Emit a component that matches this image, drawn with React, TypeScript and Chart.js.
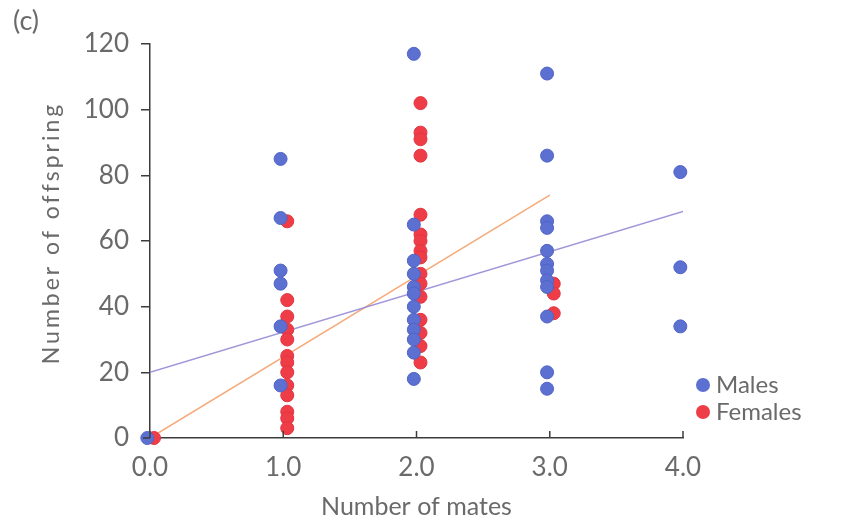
import React, { useEffect, useRef } from "react";
import { Chart, registerables } from "chart.js";

Chart.register(...registerables);

// ---- data ----
const mates = [0, 1, 2, 3, 4];
const xTickLabels = ["0.0", "1.0", "2.0", "3.0", "4.0"];
const yTicks = [0, 20, 40, 60, 80, 100, 120];

const maleOffspring: number[][] = [
  [0],
  [85, 67, 51, 47, 34, 16],
  [117, 65, 54, 50, 46, 44, 40, 36, 33, 30, 26, 18],
  [111, 86, 66, 64, 57, 53, 51, 48, 46, 37, 20, 15],
  [81, 52, 34],
];
const femaleOffspring: number[][] = [
  [0],
  [66, 42, 37, 33, 30, 25, 23, 20, 16, 13, 8, 6, 3],
  [102, 93, 91, 86, 68, 62, 60, 57, 55, 50, 47, 43, 36, 32, 28, 23],
  [47, 44, 38],
  [],
];
// fitted lines (endpoints)
const maleFitX = [0, 4];
const maleFitY = [20, 69];
const femaleFitX = [0, 3];
const femaleFitY = [0, 74];

// ---- styling ----
const MALE_DX = -0.02;
const FEMALE_DX = 0.03;
const BLUE = "#5c70d2";
const RED = "#ef3d48";
const TEXT = "#6a6a6a";
const AXIS = "#3c3c3c";
const FONT = "Lato, 'Open Sans', sans-serif";

export default function App() {
  const ref = useRef<HTMLCanvasElement | null>(null);

  useEffect(() => {
    if (!ref.current) return;
    const males = mates.flatMap((m, i) =>
      maleOffspring[i].map((v) => ({ x: m + MALE_DX, y: v }))
    );
    const females = mates.flatMap((m, i) =>
      femaleOffspring[i].map((v) => ({ x: m + FEMALE_DX, y: v }))
    );
    const maleLine = maleFitX.map((x, i) => ({ x, y: maleFitY[i] }));
    const femaleLine = femaleFitX.map((x, i) => ({ x, y: femaleFitY[i] }));

    const extras = {
      id: "extras",
      afterDraw(chart: any) {
        const { ctx, scales, chartArea } = chart;
        const xs = scales.x;
        const ys = scales.y;
        ctx.save();
        // upward x ticks and small extension of the x axis to the left
        ctx.strokeStyle = AXIS;
        ctx.lineWidth = 1.5;
        const y0 = ys.getPixelForValue(0);
        mates.forEach((m) => {
          const px = xs.getPixelForValue(m);
          ctx.beginPath();
          ctx.moveTo(px, y0);
          ctx.lineTo(px, y0 - 7);
          ctx.stroke();
        });
        ctx.beginPath();
        ctx.moveTo(chartArea.left - 7, y0);
        ctx.lineTo(chartArea.left, y0);
        ctx.stroke();
        // panel label
        ctx.fillStyle = TEXT;
        ctx.font = `27px ${FONT}`;
        ctx.textBaseline = "middle";
        ctx.textAlign = "left";
        ctx.fillText("(c)", 13, 21);
        // y title with tracking
        ctx.save();
        ctx.translate(52, (chartArea.top + chartArea.bottom) / 2 - 8);
        ctx.rotate(-Math.PI / 2);
        ctx.font = `23px ${FONT}`;
        ctx.textAlign = "center";
        (ctx as any).letterSpacing = "3px";
        ctx.fillText("Number of offspring", 0, 0);
        ctx.restore();
        // legend
        const items = [
          { label: "Males", color: BLUE },
          { label: "Females", color: RED },
        ];
        items.forEach((it, i) => {
          const cy = 385 + i * 27;
          ctx.beginPath();
          ctx.arc(703, cy, 7, 0, Math.PI * 2);
          ctx.fillStyle = it.color;
          ctx.fill();
          ctx.fillStyle = TEXT;
          ctx.font = `24px ${FONT}`;
          ctx.textBaseline = "middle";
          ctx.textAlign = "left";
          ctx.fillText(it.label, 716, cy);
        });
        ctx.restore();
      },
    };

    const chart = new Chart(ref.current, {
      type: "scatter",
      data: {
        datasets: [
          {
            label: "Males",
            data: males,
            backgroundColor: BLUE,
            borderColor: "#5063c6",
            borderWidth: 1,
            pointRadius: 6.5,
            clip: false as any,
          },
          {
            label: "Females",
            data: females,
            backgroundColor: RED,
            borderColor: "#e2343f",
            borderWidth: 1,
            pointRadius: 6.5,
            clip: false as any,
          },
          {
            label: "Males fit",
            data: maleLine,
            showLine: true,
            borderColor: "rgba(150,140,215,0.9)",
            borderWidth: 1.5,
            pointRadius: 0,
          } as any,
          {
            label: "Females fit",
            data: femaleLine,
            showLine: true,
            borderColor: "rgba(244,165,115,0.95)",
            borderWidth: 1.5,
            pointRadius: 0,
          } as any,
        ],
      },
      options: {
        animation: false,
        responsive: true,
        maintainAspectRatio: false,
        layout: { padding: { top: 44, right: 158, bottom: 0, left: 0 } },
        plugins: {
          legend: { display: false },
          tooltip: { enabled: false },
        },
        scales: {
          x: {
            type: "linear",
            min: 0,
            max: 4,
            afterFit: (s: any) => {
              s.height = 88;
            },
            afterBuildTicks: (s: any) => {
              s.ticks = mates.map((v) => ({ value: v }));
            },
            ticks: {
              callback: (v: any) => xTickLabels[mates.indexOf(Number(v))] ?? "",
              color: TEXT,
              font: { family: FONT, size: 26 },
              padding: 14,
              maxRotation: 0,
            },
            grid: { drawOnChartArea: false, drawTicks: false },
            border: { display: true, color: AXIS, width: 1.5 },
            title: {
              display: true,
              text: "Number of mates",
              color: TEXT,
              font: { family: FONT, size: 25 },
              padding: { top: 0, bottom: 4 },
            },
          },
          y: {
            type: "linear",
            min: 0,
            max: 120,
            afterFit: (s: any) => {
              s.width = 150;
            },
            afterBuildTicks: (s: any) => {
              s.ticks = yTicks.map((v) => ({ value: v }));
            },
            ticks: {
              color: TEXT,
              font: { family: FONT, size: 26 },
              padding: 12,
            },
            grid: {
              drawOnChartArea: false,
              drawTicks: true,
              tickLength: 9,
              color: AXIS,
              lineWidth: 1.5,
            },
            border: { display: true, color: AXIS, width: 1.5 },
            title: { display: false },
          },
        },
      },
      plugins: [extras],
    });
    return () => chart.destroy();
  }, []);

  return (
    <div
      style={{
        position: "absolute",
        left: 0,
        top: 0,
        width: 841,
        height: 526,
        background: "#fff",
      }}
    >
      <canvas ref={ref} />
    </div>
  );
}
